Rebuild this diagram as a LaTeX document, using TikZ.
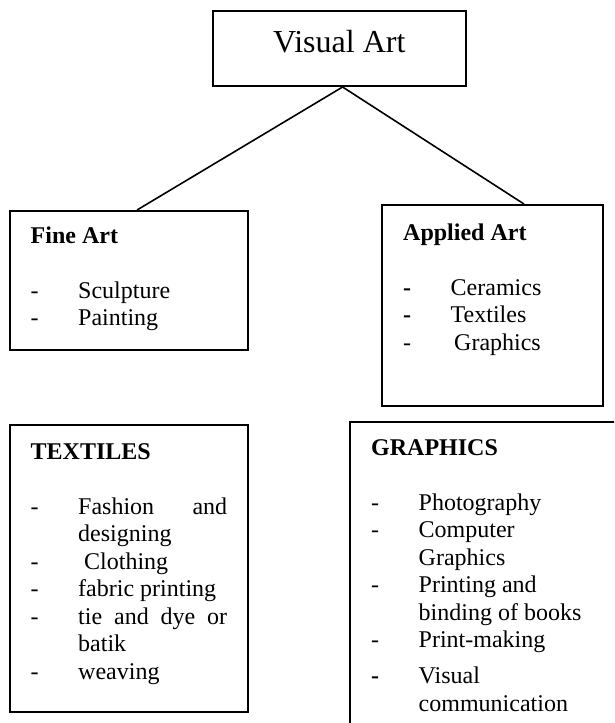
\documentclass[tikz,border=0pt]{standalone}
\usepackage{fontspec}
\setmainfont{Liberation Serif}
\newcommand{\artitem}[1]{\strut\makebox[47.5pt][l]{-}#1}
\newcommand{\artitemb}[1]{\strut\makebox[47.5pt][l]{\textbf{-}}#1}
\newcommand{\artcont}[1]{\strut\makebox[47.5pt]{}#1}

\begin{document}
\begin{tikzpicture}[x=1pt,y=-1pt,
  artbox/.style={draw,line width=2pt,inner sep=0pt},
  link/.style={line width=1.6pt},
  artlist/.style={anchor=north west,inner sep=0pt,align=left,font=\fontsize{24}{27.5}\selectfont}]
  \clip (0,0) rectangle (614,723);
  \node[artbox,minimum width=253.4pt,minimum height=75pt,text height=22pt,text depth=15pt,
    font=\fontsize{32}{38}\selectfont] (visual) at (339.3,48.5) {Visual Art};
  \node[artbox,minimum width=237.7pt,minimum height=139pt] (fine) at (128.65,280.5) {};
  \node[artbox,minimum width=221.3pt,minimum height=201pt] (applied) at (492.35,305.5) {};
  \node[artbox,minimum width=237.7pt,minimum height=287pt] (textiles) at (128.65,568.5) {};
  \node[artbox,minimum width=289.6pt,minimum height=328pt] (graphics) at (495.2,586) {};
  \draw[link] ([xshift=3.3pt]visual.south) -- ([xshift=8.4pt]fine.north);
  \draw[link] ([xshift=3.3pt]visual.south) -- ([xshift=31.6pt]applied.north);
  \node[artlist] (finelist) at (30.5,223.75) {\strut\textbf{Fine Art}\\ \strut\\
    \artitem{Sculpture}\\ \artitem{Painting}};
  \node[artlist] (appliedlist) at (403,220.75) {\strut\textbf{Applied Art}\\ \strut\\
    \artitemb{Ceramics}\\ \artitemb{Textiles}\\ \artitem{\hspace{3.5pt}Graphics}};
  \node[artlist] (textileslist) at (30.5,439.75) {\strut\textbf{TEXTILES}\\ \strut\\
    \artitem{\makebox[149pt][s]{Fashion and}}\\ \artcont{designing}\\
    \artitem{\ Clothing}\\ \artitem{fabric printing}\\
    \artitem{\makebox[149pt][s]{tie and dye or}}\\ \artcont{batik}\\
    \artitem{weaving}};
  \node[artlist] (graphicslist) at (371,435.75) {\strut\textbf{GRAPHICS}\\ \strut\\
    \artitem{Photography}\\ \artitem{Computer}\\ \artcont{Graphics}\\
    \artitem{Printing and}\\ \artcont{binding of books}\\ \artitem{Print-making}\\[8.5pt]
    \artitemb{Visual}\\ \artcont{communication}};
\end{tikzpicture}
\end{document}
